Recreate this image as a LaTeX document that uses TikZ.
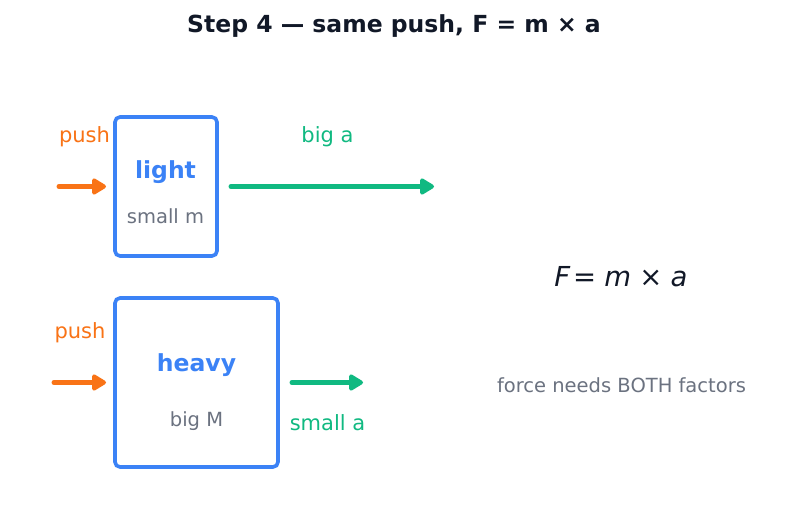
\documentclass[tikz,border=0pt]{standalone}
\usepackage{fontspec}
\setmainfont{DejaVu Sans}
\usetikzlibrary{arrows.meta}
\definecolor{cor}{HTML}{F97316}
\definecolor{cbl}{HTML}{3B82F6}
\definecolor{cgr}{HTML}{10B981}
\definecolor{cgy}{HTML}{6B7280}
\definecolor{cdk}{HTML}{111827}
\tikzset{
  massbox/.style={draw=cbl, line width=3.6pt, rounded corners=5pt, inner sep=0pt, outer sep=0pt},
  lbl/.style={inner sep=0pt, font=\fontsize{21}{25}\selectfont},
  boldlbl/.style={inner sep=0pt, text=cbl, font=\bfseries\fontsize{23.5}{28}\selectfont},
  sublbl/.style={inner sep=0pt, text=cgy, font=\fontsize{19.5}{23}\selectfont},
  oarrow/.style={draw=cor, line width=5pt, line cap=round, -{Triangle[length=16pt,width=18pt,round]}},
  garrow/.style={draw=cgr, line width=5pt, line cap=round, -{Triangle[length=16pt,width=18pt,round]}},
}
\begin{document}
\begin{tikzpicture}[x=1pt,y=-1pt]
\useasboundingbox[fill=white] (0,0) rectangle (787,510);
\node[inner sep=0pt, text=cdk, font=\bfseries\fontsize{23.5}{28}\selectfont] (title) at (394,26) {Step 4 — same push, F = m × a};

\node[massbox, minimum width=102pt, minimum height=139pt] (light) at (166,186.5) {};
\node[massbox, minimum width=163pt, minimum height=169pt] (heavy) at (196.5,382.5) {};

\node[boldlbl] (lightname) at (165.5,172) {light};
\node[sublbl] (lightsub) at (165.5,216.5) {small m};
\node[boldlbl] (heavyname) at (196.5,365) {heavy};
\node[sublbl] (heavysub) at (196.5,421) {big M};

\node[lbl, text=cor] (push1) at (84.5,137) {push};
\node[lbl, text=cor] (push2) at (80,333) {push};
\node[lbl, text=cgr] (biga) at (327.5,137) {big a};
\node[lbl, text=cgr] (smalla) at (327.5,422.5) {small a};

\coordinate (p1s) at (59,186.5);
\coordinate (p2s) at (54,382.5);
\coordinate (g1e) at (434,186.5);
\coordinate (g2e) at (363,382.5);
\draw[oarrow, shorten >=9pt] (p1s) -- (light.west);
\draw[oarrow, shorten >=9pt] (p2s) -- (heavy.west);
\draw[garrow, shorten <=14pt] (light.east) -- (g1e);
\draw[garrow, shorten <=14pt] (heavy.east) -- (g2e);

\node[inner sep=0pt, text=cdk, font=\fontsize{27.5}{32}\selectfont] (formula) at (621,277) {\itshape F\hspace{0.1em}\upshape=\hspace{0.3em}\itshape m\hspace{0.3em}\upshape×\hspace{0.3em}\itshape a};
\node[sublbl] (note) at (621.5,385.5) {force needs BOTH factors};
\end{tikzpicture}
\end{document}
